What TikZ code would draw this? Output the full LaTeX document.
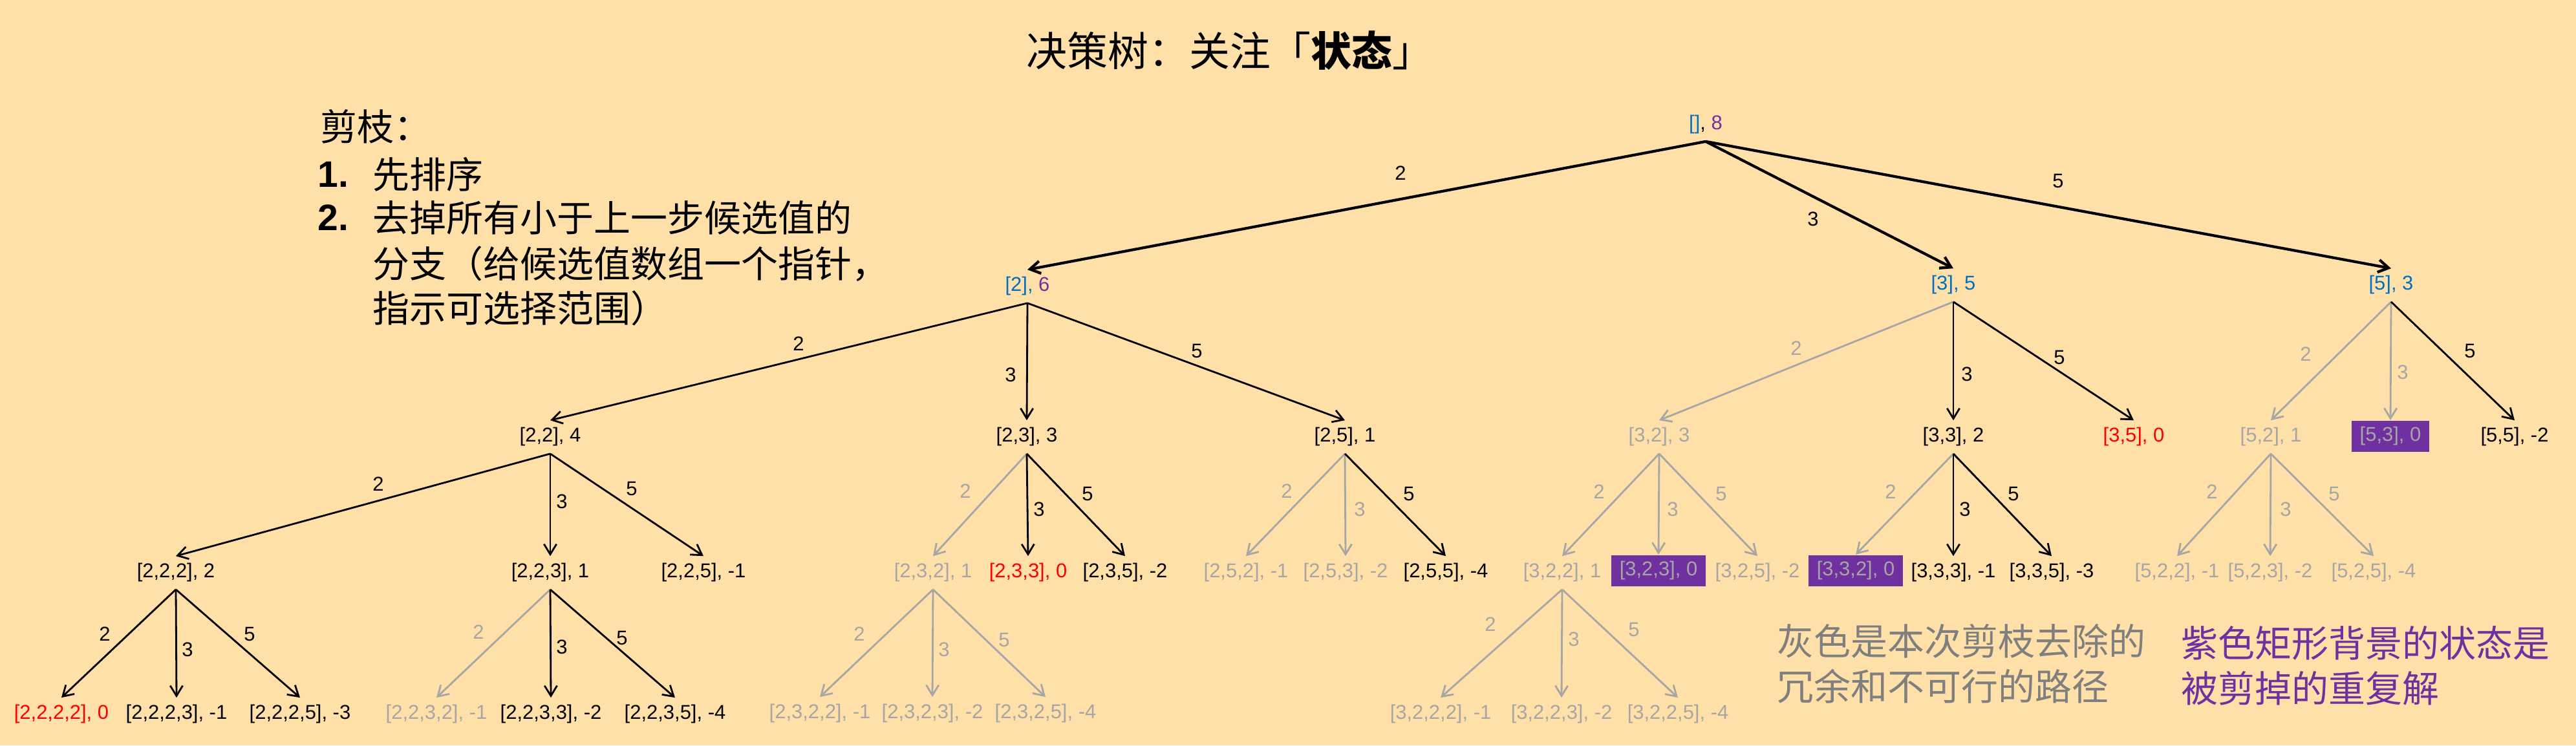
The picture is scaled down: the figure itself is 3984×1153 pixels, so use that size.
\documentclass[tikz,border=0pt]{standalone}
\usepackage{fontspec}
\setmainfont{Liberation Sans}
\newfontfamily\cjk{Noto Sans CJK SC}
\usetikzlibrary{arrows.meta}
\definecolor{bg}{RGB}{255,224,168}
\definecolor{myblue}{RGB}{0,112,192}
\definecolor{mypurple}{RGB}{112,48,160}
\definecolor{mygray}{RGB}{166,166,166}
\definecolor{legray}{RGB}{127,127,127}
\definecolor{myred}{RGB}{255,0,0}
\newcommand\lblfont{\fontsize{8.8pt}{10pt}\selectfont}
\newcommand\cnfont{\cjk\fontsize{16.2pt}{19pt}\selectfont}
\tikzset{
  tnode/.style={font=\lblfont, inner xsep=1pt, inner ysep=3pt, text height=6.4pt, text depth=1.9pt},
  gnode/.style={tnode, text=mygray},
  rnode/.style={tnode, text=myred},
  pnode/.style={tnode, fill=mypurple, text=mygray, inner xsep=3.7pt, inner ysep=2.8pt},
  elab/.style={font=\lblfont, inner sep=0pt, text height=6.3pt, text depth=0pt},
  gelab/.style={elab, text=mygray},
  blk/.style={draw=black, line width=0.8pt, -{Straight Barb[length=4.5pt,width=5.5pt]}},
  thk/.style={blk, line width=1.2pt},
  gry/.style={blk, draw=mygray},
  txt/.style={anchor=west, inner sep=0pt, font=\cnfont},
}
\begin{document}
\begin{tikzpicture}[x=0.01cm, y=-0.01cm]
\fill[bg] (0,0) rectangle (3984,1153);
\useasboundingbox (0,0) rectangle (3984,1153);

% title
\node[inner sep=0pt, font=\cjk\fontsize{17.9pt}{21pt}\selectfont] (title) at (1902,78) {决策树：关注「\textbf{状态}」};

% left notes
\node[txt] (p0) at (495,196) {剪枝：};
\node[txt, font=\fontsize{16.2pt}{19pt}\selectfont\bfseries] (p1n) at (491,270) {1.};
\node[txt] (p1) at (576,270) {先排序};
\node[txt, font=\fontsize{16.2pt}{19pt}\selectfont\bfseries] (p2n) at (491,337) {2.};
\node[txt] (p2) at (576,337) {去掉所有小于上一步候选值的};
\node[txt] (p3) at (576,408) {分支（给候选值数组一个指针，};
\node[txt] (p4) at (576,477) {指示可选择范围）};

% legend
\node[txt, text=legray] (g1) at (2748,992) {灰色是本次剪枝去除的};
\node[txt, text=legray] (g2) at (2748,1062) {冗余和不可行的路径};
\node[txt, text=mypurple] (m1) at (3373,995) {紫色矩形背景的状态是};
\node[txt, text=mypurple] (m2) at (3373,1065) {被剪掉的重复解};

% level 0/1
\node[tnode] (R) at (2638,193) {\textcolor{myblue}{[]}, \textcolor{mypurple}{8}};
\node[tnode, text=myblue] (A2) at (1589,443) {[2], \textcolor{mypurple}{6}};
\node[tnode, text=myblue] (A3) at (3021,441) {[3], 5};
\node[tnode, text=myblue] (A5) at (3698,441) {[5], 3};

% level 2
\node[tnode] (B22) at (851,676) {[2,2], 4};
\node[tnode] (B23) at (1588,676) {[2,3], 3};
\node[tnode] (B25) at (2080,676) {[2,5], 1};
\node[gnode] (B32) at (2566,676) {[3,2], 3};
\node[tnode] (B33) at (3021,676) {[3,3], 2};
\node[rnode] (B35) at (3300,676) {[3,5], 0};
\node[gnode] (B52) at (3512,676) {[5,2], 1};
\node[pnode] (B53) at (3697,675) {[5,3], 0};
\node[tnode] (B55) at (3889,676) {[5,5], -2};

% level 3
\node[tnode] (C222) at (272,886) {[2,2,2], 2};
\node[tnode] (C223) at (851,886) {[2,2,3], 1};
\node[tnode] (C225) at (1088,886) {[2,2,5], -1};
\node[gnode] (C232) at (1443,886) {[2,3,2], 1};
\node[rnode] (C233) at (1590,886) {[2,3,3], 0};
\node[tnode] (C235) at (1740,886) {[2,3,5], -2};
\node[gnode] (C252) at (1927,886) {[2,5,2], -1};
\node[gnode] (C253) at (2081,886) {[2,5,3], -2};
\node[tnode] (C255) at (2236,886) {[2,5,5], -4};
\node[gnode] (C322) at (2416,886) {[3,2,2], 1};
\node[pnode] (C323) at (2565,883) {[3,2,3], 0};
\node[gnode] (C325) at (2718,886) {[3,2,5], -2};
\node[pnode] (C332) at (2870,883) {[3,3,2], 0};
\node[tnode] (C333) at (3021,886) {[3,3,3], -1};
\node[tnode] (C335) at (3173,886) {[3,3,5], -3};
\node[gnode] (C522) at (3367,886) {[5,2,2], -1};
\node[gnode] (C523) at (3511,886) {[5,2,3], -2};
\node[gnode] (C525) at (3671,886) {[5,2,5], -4};

% level 4
\node[rnode] (D2222) at (95,1105) {[2,2,2,2], 0};
\node[tnode] (D2223) at (273,1105) {[2,2,2,3], -1};
\node[tnode] (D2225) at (464,1105) {[2,2,2,5], -3};
\node[gnode] (D2232) at (675,1105) {[2,2,3,2], -1};
\node[tnode] (D2233) at (852,1105) {[2,2,3,3], -2};
\node[tnode] (D2235) at (1044,1105) {[2,2,3,5], -4};
\node[gnode] (D2322) at (1268,1104) {[2,3,2,2], -1};
\node[gnode] (D2323) at (1442,1104) {[2,3,2,3], -2};
\node[gnode] (D2325) at (1617,1104) {[2,3,2,5], -4};
\node[gnode] (D3222) at (2228,1105) {[3,2,2,2], -1};
\node[gnode] (D3223) at (2415,1105) {[3,2,2,3], -2};
\node[gnode] (D3225) at (2595,1105) {[3,2,2,5], -4};

% edges
\draw[thk] (R.south) -- (A2.north);
\draw[thk] (R.south) -- (A3.north);
\draw[thk] (R.south) -- (A5.north);

\draw[blk] (A2.south) -- (B22.north);
\draw[blk] (A2.south) -- (B23.north);
\draw[blk] (A2.south) -- (B25.north);
\draw[gry] (A3.south) -- (B32.north);
\draw[blk] (A3.south) -- (B33.north);
\draw[blk] (A3.south) -- (B35.north);
\draw[gry] (A5.south) -- (B52.north);
\draw[gry] (A5.south) -- (B53.north);
\draw[blk] (A5.south) -- (B55.north);

\draw[blk] (B22.south) -- (C222.north);
\draw[blk] (B22.south) -- (C223.north);
\draw[blk] (B22.south) -- (C225.north);
\draw[gry] (B23.south) -- (C232.north);
\draw[blk] (B23.south) -- (C233.north);
\draw[blk] (B23.south) -- (C235.north);
\draw[gry] (B25.south) -- (C252.north);
\draw[gry] (B25.south) -- (C253.north);
\draw[blk] (B25.south) -- (C255.north);
\draw[gry] (B32.south) -- (C322.north);
\draw[gry] (B32.south) -- (C323.north);
\draw[gry] (B32.south) -- (C325.north);
\draw[gry] (B33.south) -- (C332.north);
\draw[blk] (B33.south) -- (C333.north);
\draw[blk] (B33.south) -- (C335.north);
\draw[gry] (B52.south) -- (C522.north);
\draw[gry] (B52.south) -- (C523.north);
\draw[gry] (B52.south) -- (C525.north);

\draw[blk] (C222.south) -- (D2222.north);
\draw[blk] (C222.south) -- (D2223.north);
\draw[blk] (C222.south) -- (D2225.north);
\draw[gry] (C223.south) -- (D2232.north);
\draw[blk] (C223.south) -- (D2233.north);
\draw[blk] (C223.south) -- (D2235.north);
\draw[gry] (C232.south) -- (D2322.north);
\draw[gry] (C232.south) -- (D2323.north);
\draw[gry] (C232.south) -- (D2325.north);
\draw[gry] (C322.south) -- (D3222.north);
\draw[gry] (C322.south) -- (D3223.north);
\draw[gry] (C322.south) -- (D3225.north);

% edge labels
\node[elab] (lR2) at (2166,267) {2};
\node[elab] (lR3) at (2804,338) {3};
\node[elab] (lR5) at (3183,279) {5};
\node[elab] (lA22) at (1235,531) {2};
\node[elab] (lA23) at (1563,579) {3};
\node[elab] (lA25) at (1851,542) {5};
\node[gelab] (lA32) at (2778,538) {2};
\node[elab] (lA33) at (3042,578) {3};
\node[elab] (lA35) at (3185,552) {5};
\node[gelab] (lA52) at (3566,547) {2};
\node[gelab] (lA53) at (3716,575) {3};
\node[elab] (lA55) at (3820,542) {5};
\node[elab] (lB222) at (585,748) {2};
\node[elab] (lB223) at (869,775) {3};
\node[elab] (lB225) at (977,755) {5};
\node[gelab] (lB232) at (1493,759) {2};
\node[elab] (lB233) at (1607,787) {3};
\node[elab] (lB235) at (1682,763) {5};
\node[gelab] (lB252) at (1990,759) {2};
\node[gelab] (lB253) at (2103,787) {3};
\node[elab] (lB255) at (2179,763) {5};
\node[gelab] (lB322) at (2473,760) {2};
\node[gelab] (lB323) at (2587,787) {3};
\node[gelab] (lB325) at (2662,763) {5};
\node[gelab] (lB332) at (2924,760) {2};
\node[elab] (lB333) at (3039,787) {3};
\node[elab] (lB335) at (3114,763) {5};
\node[gelab] (lB522) at (3421,760) {2};
\node[gelab] (lB523) at (3535,787) {3};
\node[gelab] (lB525) at (3610,763) {5};
\node[elab] (lC2222) at (162,980) {2};
\node[elab] (lC2223) at (290,1004) {3};
\node[elab] (lC2225) at (386,980) {5};
\node[gelab] (lC2232) at (740,977) {2};
\node[elab] (lC2233) at (869,1000) {3};
\node[elab] (lC2235) at (962,986) {5};
\node[gelab] (lC2322) at (1329,980) {2};
\node[gelab] (lC2323) at (1460,1004) {3};
\node[gelab] (lC2325) at (1553,989) {5};
\node[gelab] (lC3222) at (2305,965) {2};
\node[gelab] (lC3223) at (2434,988) {3};
\node[gelab] (lC3225) at (2527,973) {5};
\end{tikzpicture}
\end{document}
